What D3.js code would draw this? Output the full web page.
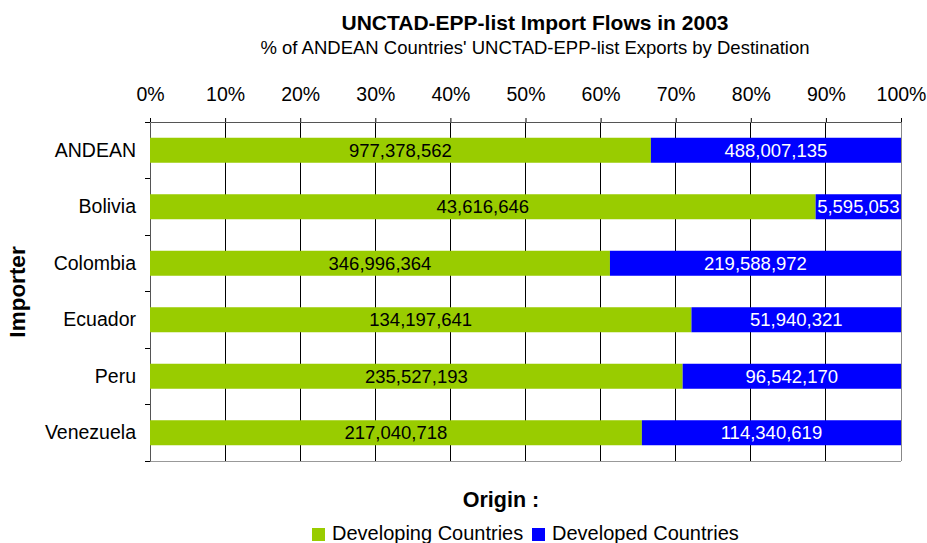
<!DOCTYPE html>
<html><head><meta charset="utf-8">
<script src="https://cdn.jsdelivr.net/npm/d3@7"></script>
<style>body{margin:0;background:#fff}svg{display:block;font-family:"Liberation Sans",Arial,sans-serif}</style>
</head><body><svg id="c" width="927" height="543"></svg>
<script>
const categories = ["ANDEAN","Bolivia","Colombia","Ecuador","Peru","Venezuela"];
const developing = [977378562,43616646,346996364,134197641,235527193,217040718];
const developed = [488007135,5595053,219588972,51940321,96542170,114340619];
const seriesNames = ["Developing Countries","Developed Countries"];
const colors = ["#99CC00","#0000FF"];
const tickValues = [0,0.1,0.2,0.3,0.4,0.5,0.6,0.7,0.8,0.9,1];

const FF = "Liberation Sans,Arial,sans-serif";
const svg = d3.select("#c");
const L=150,R=901,T=122,B=461;
const x = d3.scaleLinear().domain([0,1]).range([L,R]);
const y = d3.scaleBand().domain(categories).range([T,B]);
const fmt = d3.format(",");

// grid
svg.append("g").selectAll("line").data(tickValues.slice(1)).join("line")
  .attr("x1",d=>x(d)).attr("x2",d=>x(d)).attr("y1",T).attr("y2",B)
  .attr("stroke",d=>d===1?"#888":"#000").attr("stroke-width",1).attr("shape-rendering","crispEdges");

// top axis
const ax = svg.append("g").attr("transform",`translate(0,${T})`)
  .call(d3.axisTop(x).tickValues(tickValues).tickFormat(d3.format(".0%")).tickSize(4).tickSizeOuter(0));
ax.select(".domain").attr("stroke","#555");
ax.selectAll(".tick line").attr("stroke","#000");
ax.selectAll("text").attr("font-size",19.5).attr("fill","#000").attr("y",null).attr("dy",null)
  .attr("transform",`translate(0,${101-T})`).attr("font-family",FF);

// bottom line
svg.append("line").attr("x1",L).attr("x2",R).attr("y1",B).attr("y2",B).attr("stroke","#999").attr("shape-rendering","crispEdges");

// left axis
const ay = svg.append("g").attr("transform",`translate(${L},0)`).call(d3.axisLeft(y).tickSize(0).tickPadding(14));
ay.select(".domain").attr("stroke","#555");
ay.selectAll("text").attr("font-size",19.5).attr("fill","#000").attr("font-family",FF);
// boundary ticks
const bounds = categories.map(c=>y(c)).concat([B]);
svg.append("g").selectAll("line").data(bounds).join("line")
  .attr("x1",L-5).attr("x2",L).attr("y1",d=>d).attr("y2",d=>d).attr("stroke","#000").attr("shape-rendering","crispEdges");

// bars
const barH = 25;
const rows = categories.map((c,i)=>{const t=developing[i]+developed[i];return {c, v:[developing[i],developed[i]], p:[developing[i]/t, developed[i]/t]};});
rows.forEach(r=>{
  const yc = y(r.c)+y.bandwidth()/2;
  let acc=0;
  r.p.forEach((p,k)=>{
    svg.append("rect").attr("x",x(acc)).attr("width",x(acc+p)-x(acc)).attr("y",yc-barH/2).attr("height",barH).attr("fill",colors[k]);
    svg.append("text").attr("x",(x(acc)+x(acc+p))/2).attr("y",yc).attr("dy","0.36em").attr("text-anchor","middle")
      .attr("font-size",18.5).attr("fill",k===0?"#000":"#fff").text(fmt(r.v[k]));
    acc+=p;
  });
});

// titles
svg.append("text").attr("x",535).attr("y",30).attr("text-anchor","middle").attr("font-size",21).attr("font-weight","bold").text("UNCTAD-EPP-list Import Flows in 2003");
svg.append("text").attr("x",535).attr("y",54).attr("text-anchor","middle").attr("font-size",18.5).text("% of ANDEAN Countries' UNCTAD-EPP-list Exports by Destination");
svg.append("text").attr("transform","translate(25,292) rotate(-90)").attr("text-anchor","middle").attr("font-size",22.5).attr("font-weight","bold").text("Importer");
svg.append("text").attr("x",501).attr("y",507).attr("text-anchor","middle").attr("font-size",21.5).attr("font-weight","bold").text("Origin :");

// legend
const lg = svg.append("g");
const legX=[312,532];
seriesNames.forEach((n,k)=>{
  lg.append("rect").attr("x",legX[k]).attr("y",528).attr("width",13).attr("height",13).attr("fill",colors[k]);
  lg.append("text").attr("x",legX[k]+20).attr("y",540).attr("font-size",20).text(n);
});
</script></body></html>
